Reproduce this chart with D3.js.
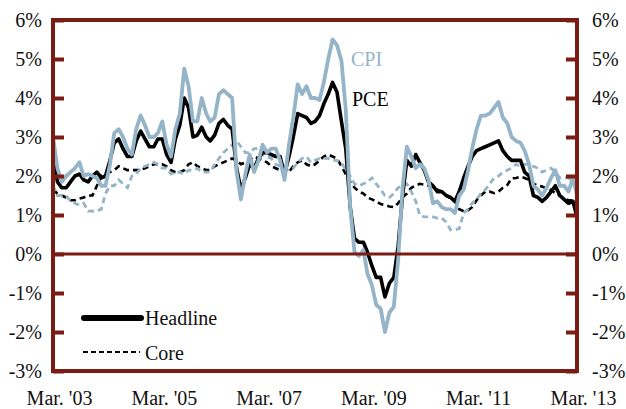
<!DOCTYPE html>
<html>
<head>
<meta charset="utf-8">
<script src="https://cdn.jsdelivr.net/npm/d3@7"></script>
<style>
  body { margin: 0; background: #fff; }
  svg text { font-family: "Liberation Serif", "DejaVu Serif", serif; }
</style>
</head>
<body>
<svg id="chart" width="626" height="409"></svg>
<script>
// monthly, Mar 2003 .. Mar 2013, year-over-year % change
var startMonth = new Date(2003, 2, 1);

var cpi = [
  3.0, 2.2, 1.85, 2.0, 2.1, 2.2, 2.35, 2.0, 2.05, 2.0,
  1.95, 1.75, 1.75, 2.3, 3.1, 3.2, 3.0, 2.7, 2.55, 3.2, 3.55, 3.3,
  3.0, 3.0, 3.1, 3.4, 2.8, 2.5, 3.2, 3.6, 4.75, 4.3, 3.4, 3.4,
  4.0, 3.6, 3.4, 3.5, 4.1, 4.2, 4.1, 4.0, 2.1, 1.4, 2.05, 2.55,
  2.1, 2.4, 2.8, 2.6, 2.7, 2.7, 2.4, 1.9, 2.8, 3.5, 4.35, 4.1,
  4.3, 4.0, 4.0, 3.95, 4.4, 5.0, 5.5, 5.35, 4.95, 3.7, 1.2, 0.05,
  -0.05, 0.1, -0.5, -0.8, -1.3, -1.4, -2.0, -1.5, -1.35, -0.15, 1.7, 2.75,
  2.5, 2.2, 2.3, 2.2, 1.9, 1.3, 1.35, 1.2, 1.15, 1.15, 1.05, 1.5,
  1.65, 2.15, 2.7, 3.2, 3.55, 3.55, 3.6, 3.75, 3.9, 3.5, 3.35, 3.0,
  2.9, 2.85, 2.65, 2.3, 1.75, 1.65, 1.5, 1.7, 1.95, 2.15, 1.75, 1.75,
  1.6, 1.95, 1.5
];

var pce = [
  2.55, 1.85, 1.7, 1.7, 1.85, 2.0, 2.05, 1.9, 1.85, 2.0,
  2.1, 1.95, 2.0, 2.4, 2.85, 2.95, 2.7, 2.5, 2.5, 2.9, 3.15, 2.95,
  2.75, 2.75, 2.95, 2.95, 2.55, 2.35, 2.95, 3.3, 4.0, 3.75, 3.0, 3.05,
  3.25, 3.0, 2.9, 3.05, 3.35, 3.45, 3.3, 3.2, 2.2, 1.65, 1.95, 2.3,
  2.2, 2.45, 2.6, 2.6, 2.55, 2.5, 2.5, 2.05, 2.5, 3.0, 3.6, 3.55,
  3.5, 3.35, 3.4, 3.55, 3.85, 4.1, 4.4, 4.15, 3.4, 2.7, 1.2, 0.4,
  0.3, 0.3, 0.05, -0.3, -0.6, -0.6, -1.1, -0.75, -0.6, 0.2, 1.5, 2.4,
  2.25, 2.55, 2.35, 2.15, 1.85, 1.75, 1.6, 1.6, 1.5, 1.45, 1.35, 1.6,
  1.95, 2.25, 2.5, 2.65, 2.7, 2.75, 2.8, 2.85, 2.9, 2.65, 2.5, 2.4,
  2.4, 2.4, 2.1, 2.0, 1.5, 1.45, 1.35, 1.45, 1.6, 1.75, 1.5, 1.4,
  1.3, 1.35, 0.95
];

var coreCpi = [
  1.75, 1.5, 1.5, 1.5, 1.35, 1.3, 1.25, 1.3, 1.1, 1.1,
  1.1, 1.15, 1.55, 1.75, 1.75, 1.9, 1.8, 1.7, 2.0, 2.05, 2.2, 2.25,
  2.3, 2.35, 2.3, 2.2, 2.2, 2.05, 2.1, 2.1, 2.05, 2.15, 2.15, 2.2,
  2.1, 2.1, 2.1, 2.3, 2.45, 2.6, 2.7, 2.8, 2.9, 2.75, 2.6, 2.6,
  2.7, 2.7, 2.55, 2.5, 2.45, 2.3, 2.25, 2.15, 2.15, 2.2, 2.35, 2.45,
  2.5, 2.35, 2.4, 2.45, 2.45, 2.45, 2.4, 2.4, 2.35, 2.15, 2.0, 1.8,
  1.75, 1.8, 1.85, 1.95, 1.8, 1.65, 1.5, 1.45, 1.55, 1.7, 1.75, 1.8,
  1.6, 1.35, 1.0, 0.95, 0.95, 0.95, 0.92, 0.92, 0.82, 0.62, 0.62, 0.65,
  1.05, 1.15, 1.3, 1.4, 1.55, 1.65, 1.8, 1.95, 2.0, 2.1, 2.15, 2.2,
  2.3, 2.25, 2.3, 2.3, 2.25, 2.2, 2.1, 2.15, 2.2, 2.1, 1.95, 1.95,
  1.95, 1.85, 1.9
];

var corePce = [
  1.65, 1.55, 1.5, 1.45, 1.38, 1.38, 1.42, 1.45, 1.5, 1.5,
  1.75, 2.0, 2.05, 2.1, 2.15, 2.25, 2.2, 2.15, 2.15, 2.15, 2.15, 2.2,
  2.25, 2.3, 2.3, 2.3, 2.25, 2.15, 2.1, 2.1, 2.15, 2.3, 2.35, 2.25,
  2.2, 2.15, 2.15, 2.25, 2.3, 2.35, 2.4, 2.45, 2.4, 2.3, 2.35, 2.4,
  2.5, 2.45, 2.4, 2.35, 2.25, 2.2, 2.15, 2.05, 2.1, 2.25, 2.35, 2.4,
  2.3, 2.25, 2.3, 2.4, 2.5, 2.55, 2.5, 2.45, 2.25, 2.05, 1.85, 1.7,
  1.6, 1.55, 1.45, 1.4, 1.35, 1.28, 1.25, 1.22, 1.2, 1.3, 1.45, 1.55,
  1.7, 1.75, 1.8, 1.78, 1.75, 1.7, 1.65, 1.6, 1.5, 1.42, 1.35, 1.15,
  1.1, 1.12, 1.2, 1.38, 1.5, 1.6, 1.6, 1.56, 1.6, 1.7, 1.77, 1.94,
  1.95, 1.98, 1.95, 1.9, 1.8, 1.75, 1.73, 1.68, 1.64, 1.56, 1.5, 1.42,
  1.38, 1.38, 1.38
];

var yTicks = [-3, -2, -1, 0, 1, 2, 3, 4, 5, 6];
var xTickYears = [2003, 2005, 2007, 2009, 2011, 2013];
var xTickLabels = ["Mar. '03", "Mar. '05", "Mar. '07", "Mar. '09", "Mar. '11", "Mar. '13"];

var frameColor = '#7b1c14';
var cpiColor = '#95b4c8';

var svg = d3.select('#chart');
var plotLeft = 53, plotRight = 577, plotTop = 20, plotBottom = 371;

var dates = cpi.map((d, i) => d3.timeMonth.offset(startMonth, i));
var x = d3.scaleTime().domain([dates[0], dates[dates.length - 1]]).range([plotLeft, plotRight]);
var y = d3.scaleLinear().domain([-3, 6]).range([plotBottom, plotTop]);

// series lines
var line = d3.line().x((d, i) => x(dates[i])).y(d => y(d)).curve(d3.curveLinear);

svg.append('path').attr('d', line(corePce))
  .attr('fill', 'none').attr('stroke', '#000').attr('stroke-width', 2.6)
  .attr('stroke-dasharray', '6,4');
svg.append('path').attr('d', line(coreCpi))
  .attr('fill', 'none').attr('stroke', cpiColor).attr('stroke-width', 2.8)
  .attr('stroke-dasharray', '6,4');
svg.append('path').attr('d', line(pce))
  .attr('fill', 'none').attr('stroke', '#000').attr('stroke-width', 3.6)
  .attr('stroke-linejoin', 'round');
svg.append('path').attr('d', line(cpi))
  .attr('fill', 'none').attr('stroke', cpiColor).attr('stroke-width', 3.8)
  .attr('stroke-linejoin', 'round');

// zero line
svg.append('line')
  .attr('x1', plotLeft).attr('x2', plotRight).attr('y1', y(0)).attr('y2', y(0))
  .attr('stroke', frameColor).attr('stroke-width', 3);

// frame
svg.append('rect')
  .attr('x', plotLeft).attr('y', plotTop)
  .attr('width', plotRight - plotLeft).attr('height', plotBottom - plotTop)
  .attr('fill', 'none').attr('stroke', frameColor).attr('stroke-width', 4);

// inward ticks, both sides
var leftAxis = d3.axisLeft(y).tickValues(yTicks).tickSizeInner(-11).tickSizeOuter(0)
  .tickFormat(d => d + '%').tickPadding(11);
var rightAxis = d3.axisRight(y).tickValues(yTicks).tickSizeInner(-11).tickSizeOuter(0)
  .tickFormat(d => d + '%').tickPadding(15);

[[leftAxis, plotLeft], [rightAxis, plotRight]].forEach(([ax, pos]) => {
  var g = svg.append('g').attr('transform', 'translate(' + pos + ',0)').call(ax);
  g.select('.domain').remove();
  g.selectAll('.tick line').attr('stroke', frameColor).attr('stroke-width', 4);
  g.selectAll('.tick text').attr('font-size', 20).attr('fill', '#111')
    .attr('font-family', '"Liberation Serif", serif');
});

// x labels
var xAxis = d3.axisBottom(x)
  .tickValues(xTickYears.map(yr => new Date(yr, 2, 1)))
  .tickFormat((d, i) => xTickLabels[i])
  .tickSize(0).tickPadding(20);
var gx = svg.append('g').attr('transform', 'translate(6,' + plotBottom + ')').call(xAxis);
gx.select('.domain').remove();
gx.selectAll('.tick text').attr('font-size', 20).attr('fill', '#111')
  .attr('font-family', '"Liberation Serif", serif');

// series labels
svg.append('text').attr('x', 351).attr('y', 66).attr('font-size', 20)
  .attr('fill', cpiColor).text('CPI');
svg.append('text').attr('x', 352).attr('y', 106).attr('font-size', 20)
  .attr('fill', '#000').text('PCE');

// legend
svg.append('line').attr('x1', 84).attr('x2', 141).attr('y1', 318).attr('y2', 318)
  .attr('stroke', '#000').attr('stroke-width', 6).attr('stroke-linecap', 'round');
svg.append('text').attr('x', 145).attr('y', 325).attr('font-size', 20).attr('fill', '#111').text('Headline');
svg.append('line').attr('x1', 83).attr('x2', 140).attr('y1', 352).attr('y2', 352)
  .attr('stroke', '#000').attr('stroke-width', 2).attr('stroke-dasharray', '5,3');
svg.append('text').attr('x', 145).attr('y', 360).attr('font-size', 20).attr('fill', '#111').text('Core');
</script>
</body>
</html>
